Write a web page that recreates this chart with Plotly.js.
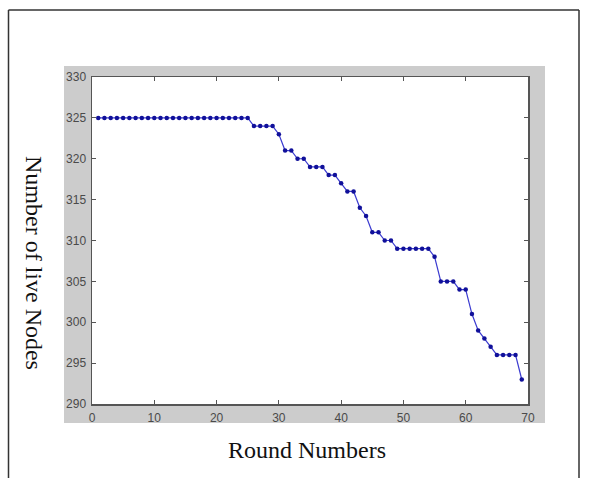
<!DOCTYPE html>
<html>
<head>
<meta charset="utf-8">
<script src="https://cdn.plot.ly/plotly-3.0.1.min.js"></script>
<style>
html,body{margin:0;padding:0;background:#fff;}
#chart{width:589px;height:478px;}
</style>
</head>
<body>
<div id="chart"></div>
<script>
var rounds = [1,2,3,4,5,6,7,8,9,10,11,12,13,14,15,16,17,18,19,20,21,22,23,24,25,
  26,27,28,29,30,31,32,33,34,35,36,37,38,39,40,41,42,43,44,45,46,47,48,49,50,
  51,52,53,54,55,56,57,58,59,60,61,62,63,64,65,66,67,68,69];
var liveNodes = [325,325,325,325,325,325,325,325,325,325,325,325,325,325,325,325,325,325,325,325,325,325,325,325,325,
  324,324,324,324,323,321,321,320,320,319,319,319,318,318,317,316,316,314,313,311,311,310,310,309,309,
  309,309,309,309,308,305,305,305,304,304,301,299,298,297,296,296,296,296,293];
var xTicks = [0,10,20,30,40,50,60,70];
var yTicks = [290,295,300,305,310,315,320,325,330];
var xTitle = 'Round Numbers';
var yTitle = 'Number of live Nodes';

var L = 92, R = 528, T = 77, B = 404, W = 589, H = 478;
function px(x){ return (x - L) / (R - L); }
function py(y){ return (B - y) / (B - T); }

var gray = '#cccccc';
var gx0 = px(64), gx1 = px(545), gy0 = py(423), gy1 = py(66);
var shapes = [
  // gray figure frame as four bands around the axes
  {type:'rect', xref:'paper', yref:'paper', x0:gx0, x1:gx1, y0:1, y1:gy1, fillcolor:gray, line:{width:0}, layer:'below'},
  {type:'rect', xref:'paper', yref:'paper', x0:gx0, x1:gx1, y0:gy0, y1:0, fillcolor:gray, line:{width:0}, layer:'below'},
  {type:'rect', xref:'paper', yref:'paper', x0:gx0, x1:0, y0:0, y1:1, fillcolor:gray, line:{width:0}, layer:'below'},
  {type:'rect', xref:'paper', yref:'paper', x0:1, x1:gx1, y0:0, y1:1, fillcolor:gray, line:{width:0}, layer:'below'},
  // outer page border
  {type:'line', xref:'paper', yref:'paper', x0:px(8.5), x1:px(579), y0:py(10), y1:py(10), line:{color:'#333', width:1.5}},
  {type:'line', xref:'paper', yref:'paper', x0:px(8.5), x1:px(8.5), y0:py(10), y1:py(480), line:{color:'#333', width:1.5}},
  {type:'line', xref:'paper', yref:'paper', x0:px(579), x1:px(579), y0:py(10), y1:py(480), line:{color:'#333', width:1.5}}
];

var trace = {
  x: rounds, y: liveNodes, type:'scatter', mode:'lines+markers',
  line:{color:'#3b3bd0', width:1.2},
  marker:{color:'#10109a', size:4.5},
  hoverinfo:'skip'
};

var axisCommon = {
  showline:true, linecolor:'#555', linewidth:1.5, mirror:'ticks',
  ticks:'inside', ticklen:4, tickcolor:'#555', tickwidth:1,
  showgrid:false, zeroline:false,
  tickfont:{family:'Liberation Sans, Arial, sans-serif', size:12, color:'#4a4a4a'},
  fixedrange:true
};

var layout = {
  width:W, height:H,
  margin:{l:L, r:W-R, t:T, b:H-B, pad:0},
  paper_bgcolor:'#ffffff', plot_bgcolor:'#ffffff',
  showlegend:false,
  xaxis: Object.assign({}, axisCommon, {range:[0,70], tickvals:xTicks, ticktext:xTicks.map(String), ticklabelstandoff:2}),
  yaxis: Object.assign({}, axisCommon, {range:[290,330], tickvals:yTicks, ticktext:yTicks.map(String), ticklabelstandoff:2}),
  shapes: shapes,
  annotations: [
    {text:xTitle, xref:'paper', yref:'paper', x:px(307), y:py(450), showarrow:false,
     xanchor:'center', yanchor:'middle', font:{family:'Liberation Serif, Times New Roman, serif', size:24, color:'#111'}},
    {text:yTitle, xref:'paper', yref:'paper', x:px(34), y:py(263), showarrow:false, textangle:90,
     xanchor:'center', yanchor:'middle', font:{family:'Liberation Serif, Times New Roman, serif', size:24, color:'#111'}}
  ]
};

Plotly.newPlot('chart', [trace], layout, {displayModeBar:false, staticPlot:true});
</script>
</body>
</html>
